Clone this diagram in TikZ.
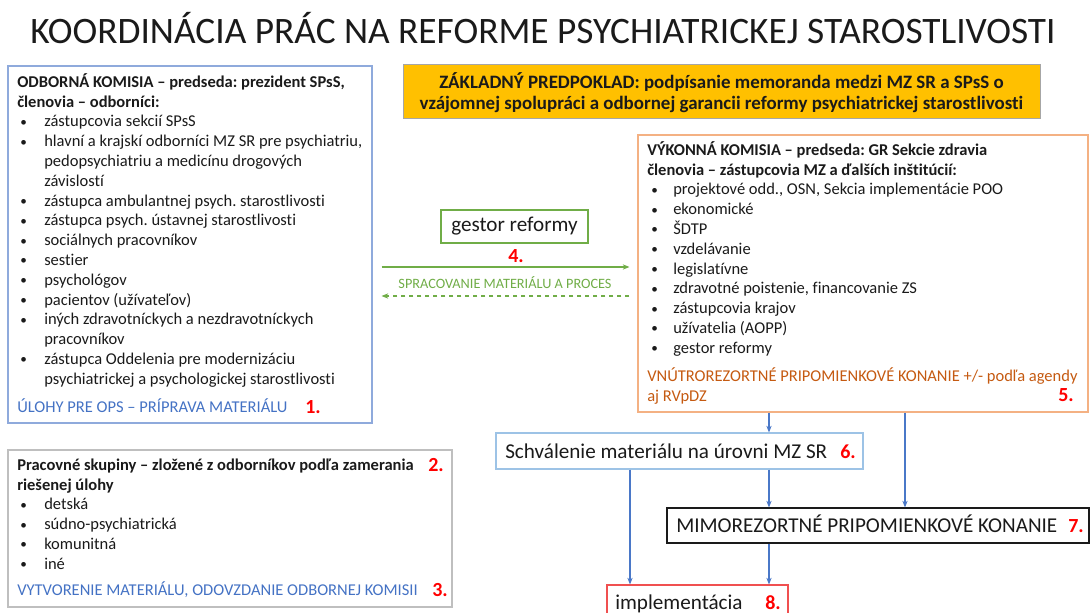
\documentclass[tikz,border=0pt]{standalone}
\usepackage{fontspec}
\setmainfont{Carlito}[Ligatures={NoCommon}]
\frenchspacing
\usetikzlibrary{fit,arrows.meta}
\definecolor{kblue}{HTML}{8FAADC}
\definecolor{ublue}{HTML}{4472C4}
\definecolor{ablue}{HTML}{4A78C8}
\definecolor{sblue}{HTML}{9DC3E6}
\definecolor{ygold}{HTML}{FFC000}
\definecolor{ygray}{HTML}{A6A6A6}
\definecolor{kgreen}{HTML}{70AD47}
\definecolor{korange}{HTML}{F4B183}
\definecolor{kbrown}{HTML}{C55A11}
\definecolor{numred}{HTML}{FF0000}
\definecolor{implred}{HTML}{F05050}
\definecolor{lgray}{HTML}{BFBFBF}
\definecolor{dark}{HTML}{1A1A1A}
\newcommand\kbul{\raisebox{0.4pt}{\scalebox{0.8}{\textbullet}}}
\newcommand\bitemA[1]{\hspace*{2.25pt}\makebox[18pt][l]{\kbul}#1}
\newcommand\contA[1]{\hspace*{20.25pt}#1}
\newcommand\bitemB[1]{\hspace*{3pt}\makebox[16.5pt][l]{\kbul}#1}
\begin{document}
\begin{tikzpicture}[x=0.75pt,y=-0.75pt,
  box/.style={draw, inner sep=0pt, line width=0.9pt},
  body/.style={font=\fontsize{12.375pt}{14.85pt}\selectfont, text=dark, inner sep=0pt, align=left, anchor=north west},
  foot/.style={font=\fontsize{12.375pt}{14.85pt}\selectfont, inner sep=0pt, anchor=base west},
  num/.style={font=\fontsize{15pt}{17pt}\selectfont\bfseries, text=numred, inner sep=0pt, anchor=base west},
  big/.style={font=\fontsize{15.85pt}{18pt}\selectfont, text=dark, inner sep=0pt, anchor=base west},
  flow/.style={draw=ablue, line width=0.8pt, -{Stealth[length=5pt,width=4pt]}},
  garrow/.style={draw=kgreen, line width=0.8pt, -{Stealth[length=5pt,width=4pt]}}
]
\clip (0,0) rectangle (1090,613);
\useasboundingbox (0,0) rectangle (1090,613);
% title
\node[anchor=base west, inner sep=0pt, font=\fontsize{28pt}{33pt}\selectfont, text=dark] (title) at (30,44) {KOORDINÁCIA PRÁC NA REFORME PSYCHIATRICKEJ STAROSTLIVOSTI};
% left box
\node[box, draw=kblue, fit={(8,66) (372,423)}] (ok) {};
\node[body] (oktext) at (17,73.1) {\strut\textbf{ODBORNÁ KOMISIA – predseda: prezident SPsS,}\\
\textbf{členovia – odborníci:}\\
\bitemA{zástupcovia sekcií SPsS}\\
\bitemA{hlavní a krajskí odborníci MZ SR pre psychiatriu,}\\
\contA{pedopsychiatriu a medicínu drogových}\\
\contA{závislostí}\\
\bitemA{zástupca ambulantnej psych. starostlivosti}\\
\bitemA{zástupca psych. ústavnej starostlivosti}\\
\bitemA{sociálnych pracovníkov}\\
\bitemA{sestier}\\
\bitemA{psychológov}\\
\bitemA{pacientov (užívateľov)}\\
\bitemA{iných zdravotníckych a nezdravotníckych}\\
\contA{pracovníkov}\\
\bitemA{zástupca Oddelenia pre modernizáciu}\\
\contA{psychiatrickej a psychologickej starostlivosti}};
\node[foot, text=ublue] (okfoot) at (17,412) {ÚLOHY PRE OPS – PRÍPRAVA MATERIÁLU};
\node[num] (n1) at (305,413) {1.};
% yellow box
\node[box, draw=ygray, fill=ygold, line width=0.6pt, fit={(403,64) (1040,118)}] (zp) {};
\node[inner sep=0pt, align=center, text=dark, font=\fontsize{14.2pt}{15.75pt}\selectfont\bfseries] (zptext) at ([yshift=-1pt]zp.center) {ZÁKLADNÝ PREDPOKLAD: podpísanie memoranda medzi MZ SR a SPsS o\\vzájomnej spolupráci a odbornej garancii reformy psychiatrickej starostlivosti};
% gestor
\node[box, draw=kgreen, fit={(441,210) (588,243)}] (gr) {};
\node[inner sep=0pt, text=dark, font=\fontsize{15.85pt}{18pt}\selectfont] (grtext) at (gr.center) {gestor reformy};
\node[num, anchor=center] (n4) at (516,256) {4.};
% right box
\node[box, draw=korange, fit={(638,135) (1088,412)}] (vk) {};
\node[body] (vktext) at (647,141.1) {\strut\textbf{VÝKONNÁ KOMISIA – predseda: GR Sekcie zdravia}\\
\textbf{členovia – zástupcovia MZ a ďalších inštitúcií:}\\
\bitemB{projektové odd., OSN, Sekcia implementácie POO}\\
\bitemB{ekonomické}\\
\bitemB{ŠDTP}\\
\bitemB{vzdelávanie}\\
\bitemB{legislatívne}\\
\bitemB{zdravotné poistenie, financovanie ZS}\\
\bitemB{zástupcovia krajov}\\
\bitemB{užívatelia (AOPP)}\\
\bitemB{gestor reformy}};
\node[body, text=kbrown] (vkfoot) at (647,367.1) {\strut VNÚTROREZORTNÉ PRIPOMIENKOVÉ KONANIE +/- podľa agendy\\aj RVpDZ};
\node[num] (n5) at (1058,401) {5.};
% green arrows
\coordinate (ya) at (0,267);
\coordinate (yb) at (0,296);
\draw[garrow, shorten <=6.75pt, shorten >=6pt] (ok.east |- ya) -- (vk.west |- ya);
\node[inner sep=0pt, text=kgreen, font=\fontsize{10.7pt}{12pt}\selectfont] (proc) at (505,283) {SPRACOVANIE MATERIÁLU A PROCES};
\draw[garrow, dash pattern=on 3.5pt off 2.5pt, shorten <=6pt, shorten >=6.75pt] (vk.west |- yb) -- (ok.east |- yb);
% bottom left box
\node[box, draw=lgray, fit={(8,450) (452,607)}] (ps) {};
\node[body] (pstext) at (17,456.1) {\strut\textbf{Pracovné skupiny – zložené z odborníkov podľa zamerania}\\
\textbf{riešenej úlohy}\\
\bitemA{detská}\\
\bitemA{súdno-psychiatrická}\\
\bitemA{komunitná}\\
\bitemA{iné}};
\node[num] (n2) at (428,471) {2.};
\node[foot, text=ublue] (psfoot) at (17,595) {VYTVORENIE MATERIÁLU, ODOVZDANIE ODBORNEJ KOMISII};
\node[num] (n3) at (432,596) {3.};
% flow boxes
\node[box, draw=sblue, fit={(496,433) (863,469)}] (schv) {};
\node[big] (schvtext) at (505,458) {Schválenie materiálu na úrovni MZ SR};
\node[num] (n6) at (840,458) {6.};
\node[box, draw=dark, fit={(667,508) (1089,543)}] (mimo) {};
\node[big] (mimotext) at (676,532) {MIMOREZORTNÉ PRIPOMIENKOVÉ KONANIE};
\node[num] (n7) at (1068,532) {7.};
\node[box, draw=implred, fit={(607,585) (788,625)}] (impl) {};
\node[big] (impltext) at (615,609) {implementácia};
\node[num] (n8) at (765,609) {8.};
% flow arrows
\coordinate (xa) at (769,0);
\coordinate (xb) at (905,0);
\coordinate (xc) at (630,0);
\draw[flow] (vk.south -| xa) -- (schv.north -| xa);
\draw[flow] (vk.south -| xb) -- (mimo.north -| xb);
\draw[flow] (schv.south -| xa) -- (mimo.north -| xa);
\draw[flow] (schv.south -| xc) -- (impl.north -| xc);
\draw[flow] (mimo.south -| xa) -- (impl.north -| xa);
\end{tikzpicture}
\end{document}
